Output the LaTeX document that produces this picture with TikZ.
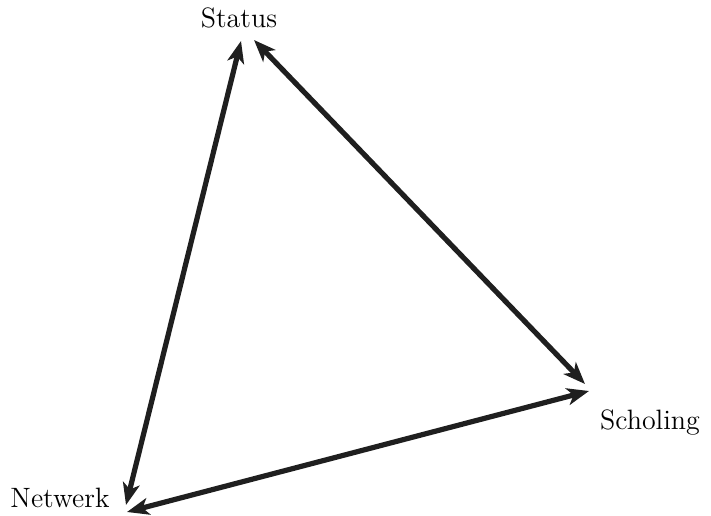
\documentclass[tikz,border=0pt]{standalone}
\usetikzlibrary{arrows.meta}
\begin{document}
\begin{tikzpicture}[x=0.5bp,y=-0.5bp,
    label/.style={anchor=base,inner sep=0pt,font=\fontsize{14bp}{16bp}\selectfont},
    link/.style={{Stealth[length=11bp,width=8.5bp,inset=3bp]}-{Stealth[length=11bp,width=8.5bp,inset=3bp]},line width=2.6bp,color=black!88}]
    \useasboundingbox (0,0) rectangle (711,516);
    \node[label] (status) at (239,28) {Status};
    \node[label] (netwerk) at (60,507) {Netwerk};
    \node[label] (scholing) at (650,429) {Scholing};
    % arrow ends
    \coordinate (sa) at (241,41);
    \coordinate (sb) at (254,40);
    \coordinate (na) at (126,505);
    \coordinate (nb) at (127,512);
    \coordinate (ca) at (585,384);
    \coordinate (cb) at (589,391);
    \draw[link] (sa) -- (na);
    \draw[link] (sb) -- (ca);
    \draw[link] (nb) -- (cb);
\end{tikzpicture}
\end{document}
